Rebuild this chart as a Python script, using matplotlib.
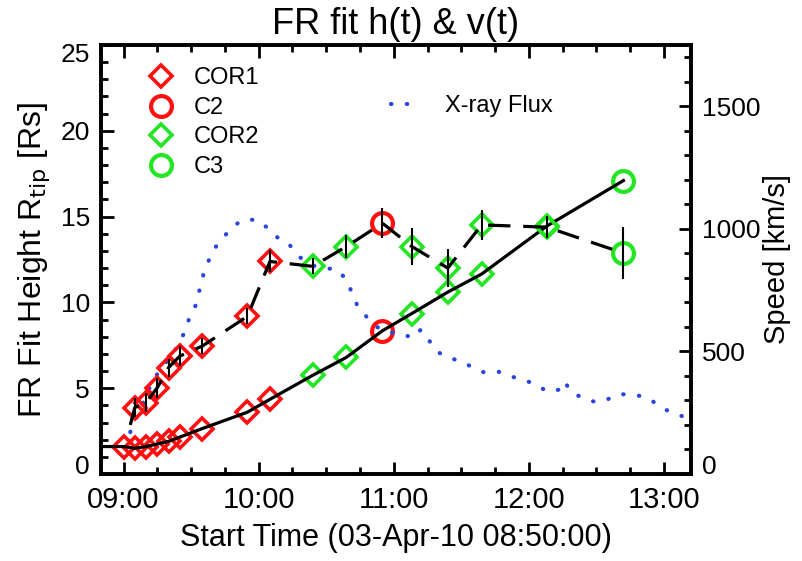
import matplotlib
matplotlib.use("Agg")
import matplotlib.pyplot as plt
from matplotlib.lines import Line2D
from matplotlib.ticker import MultipleLocator, FixedLocator, FuncFormatter
from matplotlib.transforms import ScaledTranslation

plt.rcParams['font.family'] = ['Liberation Sans', 'DejaVu Sans']

# ---------------- data ----------------
# COR1 (red diamonds)
cor1_h_times = ["09:00", "09:05", "09:10", "09:15", "09:20", "09:25", "09:35", "09:55", "10:05"]
cor1_height = [1.6, 1.5, 1.6, 1.75, 1.9, 2.15, 2.65, 3.6, 4.35]
cor1_v_times = ["09:05", "09:10", "09:15", "09:20", "09:25", "09:35", "09:55", "10:05"]
cor1_speed = [271, 291, 352, 434, 481, 522, 643, 867]
cor1_speed_err = [40, 40, 40, 37, 40, 33, 33, 45]

# C2 (red circles)
c2_times = ["10:55"]
c2_height = [8.35]
c2_speed = [1023]
c2_speed_err = [61]

# COR2 (green diamonds)
cor2_times = ["10:24", "10:39", "11:08", "11:24", "11:39", "12:08"]
cor2_height = [5.75, 6.8, 9.35, 10.6, 11.65, 14.45]
cor2_speed = [847, 928, 928, 840, 1016, 1007]
cor2_speed_err = [33, 47, 75, 78, 61, 45]

# C3 (green circles)
c3_times = ["12:42"]
c3_height = [17.1]
c3_speed = [901]
c3_speed_err = [105]

# start of the fitted curves
h_line_start_times = ["08:50"]
h_line_start = [1.6]
v_line_start_times = ["09:03"]
v_line_start = [200]

# GOES X-ray flux (scaled onto the speed axis)
xray_times = ["09:03", "09:13", "09:24", "09:27", "09:29", "09:32", "09:36", "09:40", "09:44",
              "09:49", "09:53", "09:59", "10:04", "10:08", "10:13", "10:18", "10:24", "10:29",
              "10:35", "10:39", "10:44", "10:49", "10:54", "10:59", "11:03", "11:09", "11:12",
              "11:16", "11:19", "11:24", "11:30", "11:35", "11:40", "11:46", "11:52", "11:57",
              "12:03", "12:08", "12:15", "12:16", "12:19", "12:25", "12:30", "12:35", "12:40",
              "12:46", "12:52", "12:57", "13:02", "13:08"]
xray_flux = [171, 382, 520, 577, 630, 687, 833, 915, 963,
             1012, 1037, 1037, 1004, 967, 943, 886, 850, 841,
             833, 793, 683, 630, 589, 577, 569, 557, 589,
             541, 500, 476, 459, 435, 415, 419, 398, 386,
             366, 337, 346, 374, 333, 305, 293, 305, 325,
             325, 313, 285, 256, 236]

x_ticks = ["09:00", "10:00", "11:00", "12:00", "13:00"]
x_range = ["08:50", "13:12"]


def hrs(s):
    h, m = s.split(":")
    return int(h) + int(m) / 60.0


def conv(lst):
    return [hrs(s) for s in lst]


RED = "#ff1010"
GREEN = "#22e622"
BLUE = "#2a45dd"
DMS, DMEW, CMS, CMEW = 11, 2.6, 15, 3

fig = plt.figure(figsize=(8.03, 5.61), dpi=100)
fig.subplots_adjust(left=101 / 803, right=691 / 803, bottom=1 - 474 / 561, top=1 - 45 / 561)
ax = fig.add_subplot(111)
ax2 = ax.twinx()

ax.set_xlim(conv(x_range))
ax.set_ylim(0, 25)
ax2.set_ylim(0, 1750)

# markers: height
mk = dict(ls="none", mfc="none", zorder=2)
ax.plot(conv(cor1_h_times), cor1_height, marker="D", ms=DMS, mew=DMEW, color=RED, **mk)
ax.plot(conv(c2_times), c2_height, marker="o", ms=CMS, mew=CMEW, color=RED, **mk)
ax.plot(conv(cor2_times), cor2_height, marker="D", ms=DMS, mew=DMEW, color=GREEN, **mk)
ax.plot(conv(c3_times), c3_height, marker="o", ms=CMS, mew=CMEW, color=GREEN, **mk)

# markers: speed
ax2.plot(conv(cor1_v_times), cor1_speed, marker="D", ms=DMS, mew=DMEW, color=RED, **mk)
ax2.plot(conv(c2_times), c2_speed, marker="o", ms=CMS, mew=CMEW, color=RED, **mk)
ax2.plot(conv(cor2_times), cor2_speed, marker="D", ms=DMS, mew=DMEW, color=GREEN, **mk)
ax2.plot(conv(c3_times), c3_speed, marker="o", ms=CMS, mew=CMEW, color=GREEN, **mk)

# height line (solid)
h_pts = sorted(zip(conv(h_line_start_times + cor1_h_times + c2_times + cor2_times + c3_times),
                   h_line_start + cor1_height + c2_height + cor2_height + c3_height))
ax.plot([p[0] for p in h_pts], [p[1] for p in h_pts], color="black", lw=2.3, zorder=3)

# speed line (dashed) with error bars
v_pts = sorted(zip(conv(v_line_start_times + cor1_v_times + c2_times + cor2_times + c3_times),
                   v_line_start + cor1_speed + c2_speed + cor2_speed + c3_speed))
ax2.plot([p[0] for p in v_pts], [p[1] for p in v_pts], color="black", lw=2.3,
         dashes=(7, 4), zorder=3)
all_vt = conv(cor1_v_times + c2_times + cor2_times + c3_times)
all_v = cor1_speed + c2_speed + cor2_speed + c3_speed
all_ve = cor1_speed_err + c2_speed_err + cor2_speed_err + c3_speed_err
ax2.errorbar(all_vt, all_v, yerr=all_ve, fmt="none", ecolor="black", elinewidth=1.5,
             capsize=0, zorder=3)

# X-ray flux
ax2.plot(conv(xray_times), xray_flux, color=BLUE, lw=3, dashes=(0.1, 3.7),
         dash_capstyle="round", zorder=1)

# axes styling
for a in (ax, ax2):
    for sp in a.spines.values():
        sp.set_linewidth(2.6)
ax.xaxis.set_major_locator(FixedLocator(conv(x_ticks)))
ax.xaxis.set_minor_locator(MultipleLocator(0.25))
ax.xaxis.set_major_formatter(FuncFormatter(
    lambda v, p: "%02d:%02d" % (int(round(v * 60)) // 60, int(round(v * 60)) % 60)))
ax.yaxis.set_major_locator(MultipleLocator(5))
ax.yaxis.set_minor_locator(MultipleLocator(1))
ax2.yaxis.set_major_locator(MultipleLocator(500))
ax2.yaxis.set_minor_locator(MultipleLocator(100))

ax.tick_params(axis="x", which="both", direction="in", top=True, bottom=True, width=2)
ax.tick_params(axis="y", which="both", direction="in", left=True, right=False, width=2)
ax2.tick_params(axis="y", which="both", direction="in", right=True, left=False, width=2)
for a in (ax, ax2):
    a.tick_params(which="major", length=9, pad=8)
    a.tick_params(which="minor", length=5)
ax.tick_params(axis="x", labelsize=21, pad=9)
ax.tick_params(axis="y", labelsize=19)
ax2.tick_params(axis="y", labelsize=19)

ax.set_xlabel("Start Time (03-Apr-10 08:50:00)", fontsize=22, labelpad=6)
ax.set_ylabel("FR Fit Height R$_{\\mathrm{tip}}$ [Rs]", fontsize=23, labelpad=6)
ax2.set_ylabel("Speed [km/s]", fontsize=21, labelpad=2)
ax.set_title("FR fit h(t) & v(t)", fontsize=26, pad=8)

# legends
h1 = [Line2D([], [], ls="none", marker="D", ms=DMS, mew=DMEW, mfc="none", color=RED),
      Line2D([], [], ls="none", marker="o", ms=CMS, mew=CMEW, mfc="none", color=RED),
      Line2D([], [], ls="none", marker="D", ms=DMS, mew=DMEW, mfc="none", color=GREEN),
      Line2D([], [], ls="none", marker="o", ms=CMS, mew=CMEW, mfc="none", color=GREEN)]
leg1 = ax.legend(h1, ["COR1", "C2", "COR2", "C3"], loc="upper left",
                 bbox_to_anchor=(0.065, 0.97), frameon=False, fontsize=17,
                 handlelength=1.0, handletextpad=0.9, labelspacing=0.32, borderaxespad=0)
ax.add_artist(leg1)
h2 = [Line2D([], [], color=BLUE, lw=3, dashes=(0.1, 3.7), dash_capstyle="round")]
ax.legend(h2, ["X-ray Flux"], loc="upper left", bbox_to_anchor=(0.475, 0.905), frameon=False,
          fontsize=17, handlelength=1.3, handletextpad=1.0, borderaxespad=0)

# nudge the end tick labels inward, as in the original
fig.canvas.draw()
for a, axis_obj in ((ax, ax.yaxis), (ax2, ax2.yaxis)):
    ticks = axis_obj.get_major_ticks()
    locs = axis_obj.get_majorticklocs()
    lo, hi = a.get_ylim()
    for t, loc in zip(ticks, locs):
        if abs(loc - lo) < 1e-9:
            for lab in (t.label1, t.label2):
                lab.set_transform(lab.get_transform() + ScaledTranslation(0, 0.09, fig.dpi_scale_trans))
        elif abs(loc - hi) < 1e-9:
            for lab in (t.label1, t.label2):
                lab.set_transform(lab.get_transform() + ScaledTranslation(0, -0.08, fig.dpi_scale_trans))

fig.savefig("out.png", dpi=100)
